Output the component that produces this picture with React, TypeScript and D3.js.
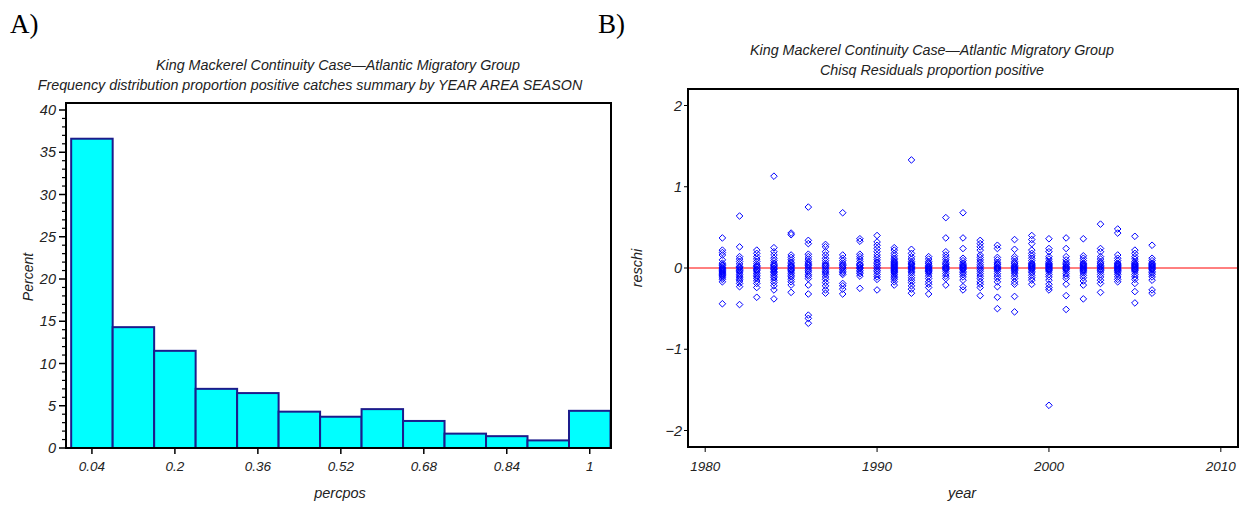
import React from "react";
import * as d3 from "d3";

// ---------- Panel A data ----------
const binCenters = [0.04, 0.12, 0.2, 0.28, 0.36, 0.44, 0.52, 0.6, 0.68, 0.76, 0.84, 0.92, 1.0];
const binPercents = [36.6, 14.3, 11.5, 7.0, 6.5, 4.3, 3.7, 4.6, 3.2, 1.7, 1.4, 0.9, 4.4];
const binWidth = 0.08;
const histXTicks = [0.04, 0.2, 0.36, 0.52, 0.68, 0.84, 1];
const histYTicks = [0, 5, 10, 15, 20, 25, 30, 35, 40];

// ---------- Panel B data ----------
const years = [1981, 1982, 1983, 1984, 1985, 1986, 1987, 1988, 1989, 1990, 1991, 1992, 1993,
  1994, 1995, 1996, 1997, 1998, 1999, 2000, 2001, 2002, 2003, 2004, 2005, 2006];
const reschiByYear = [
  [0.37, 0.22, 0.19, 0.16, 0.1, 0.06, 0.04, 0.03, 0.01, 0.0, -0.01, -0.02, -0.03, -0.04, -0.05, -0.06, -0.07, -0.08, -0.09, -0.1, -0.12, -0.14, -0.17, -0.44],
  [0.64, 0.26, 0.14, 0.11, 0.08, 0.05, 0.02, 0.01, 0.0, -0.02, -0.03, -0.04, -0.06, -0.08, -0.1, -0.12, -0.14, -0.16, -0.19, -0.23, -0.45],
  [0.22, 0.18, 0.14, 0.11, 0.08, 0.05, 0.03, 0.02, 0.01, -0.01, -0.02, -0.03, -0.05, -0.07, -0.09, -0.11, -0.13, -0.16, -0.19, -0.24, -0.36],
  [1.13, 0.25, 0.2, 0.16, 0.12, 0.09, 0.06, 0.04, 0.03, 0.02, 0.0, -0.01, -0.02, -0.04, -0.05, -0.06, -0.08, -0.1, -0.12, -0.15, -0.18, -0.22, -0.27, -0.38],
  [0.43, 0.41, 0.16, 0.13, 0.1, 0.07, 0.05, 0.03, 0.02, 0.01, -0.01, -0.02, -0.03, -0.05, -0.07, -0.09, -0.11, -0.14, -0.17, -0.21, -0.3],
  [0.75, 0.34, 0.3, 0.17, 0.14, 0.11, 0.08, 0.06, 0.04, 0.03, 0.01, -0.01, -0.03, -0.05, -0.08, -0.1, -0.13, -0.21, -0.32, -0.58, -0.62, -0.68],
  [0.29, 0.26, 0.2, 0.16, 0.12, 0.09, 0.06, 0.04, 0.03, 0.02, 0.0, -0.02, -0.04, -0.06, -0.08, -0.11, -0.14, -0.18, -0.22, -0.27, -0.31],
  [0.68, 0.16, 0.12, 0.09, 0.06, 0.04, 0.03, 0.01, 0.0, -0.02, -0.04, -0.06, -0.08, -0.19, -0.22, -0.26, -0.32],
  [0.36, 0.33, 0.17, 0.14, 0.11, 0.08, 0.05, 0.04, 0.03, 0.01, 0.0, -0.01, -0.03, -0.05, -0.07, -0.1, -0.25],
  [0.4, 0.32, 0.28, 0.24, 0.2, 0.16, 0.13, 0.1, 0.07, 0.05, 0.03, 0.01, -0.01, -0.03, -0.05, -0.08, -0.11, -0.14, -0.27],
  [0.25, 0.22, 0.18, 0.15, 0.12, 0.1, 0.08, 0.07, 0.06, 0.05, 0.04, 0.03, 0.02, 0.01, 0.0, -0.01, -0.02, -0.03, -0.04, -0.05, -0.06, -0.08, -0.1, -0.12, -0.14, -0.17, -0.21],
  [1.33, 0.23, 0.18, 0.14, 0.11, 0.08, 0.06, 0.05, 0.04, 0.02, 0.01, 0.0, -0.01, -0.02, -0.04, -0.06, -0.09, -0.12, -0.15, -0.18, -0.22, -0.26, -0.31],
  [0.14, 0.11, 0.08, 0.06, 0.05, 0.03, 0.02, 0.01, 0.0, -0.01, -0.02, -0.03, -0.04, -0.05, -0.07, -0.1, -0.13, -0.17, -0.2, -0.24, -0.32],
  [0.62, 0.37, 0.2, 0.16, 0.13, 0.1, 0.07, 0.05, 0.04, 0.02, 0.01, 0.0, -0.01, -0.02, -0.04, -0.07, -0.1, -0.13, -0.21],
  [0.68, 0.37, 0.24, 0.12, 0.09, 0.06, 0.04, 0.03, 0.02, 0.01, 0.0, -0.01, -0.02, -0.04, -0.06, -0.08, -0.11, -0.15, -0.23, -0.27],
  [0.34, 0.3, 0.26, 0.22, 0.16, 0.13, 0.1, 0.07, 0.04, 0.02, 0.0, -0.02, -0.04, -0.07, -0.1, -0.13, -0.17, -0.2, -0.24, -0.34],
  [0.28, 0.24, 0.13, 0.1, 0.07, 0.05, 0.04, 0.02, 0.01, 0.0, -0.01, -0.02, -0.04, -0.07, -0.1, -0.13, -0.17, -0.23, -0.36, -0.5],
  [0.35, 0.23, 0.14, 0.11, 0.08, 0.06, 0.05, 0.03, 0.02, 0.01, 0.0, -0.01, -0.02, -0.03, -0.05, -0.07, -0.1, -0.13, -0.17, -0.2, -0.35, -0.54],
  [0.4, 0.35, 0.3, 0.22, 0.18, 0.15, 0.12, 0.09, 0.06, 0.05, 0.04, 0.03, 0.02, 0.01, 0.0, -0.01, -0.02, -0.04, -0.06, -0.09, -0.12, -0.15, -0.2],
  [0.36, 0.24, 0.2, 0.14, 0.11, 0.08, 0.06, 0.05, 0.04, 0.03, 0.02, 0.01, 0.0, -0.01, -0.02, -0.03, -0.05, -0.08, -0.11, -0.15, -0.2, -0.24, -0.27, -1.69],
  [0.37, 0.24, 0.14, 0.1, 0.07, 0.05, 0.04, 0.02, 0.01, 0.0, -0.01, -0.02, -0.04, -0.07, -0.1, -0.13, -0.2, -0.34, -0.51],
  [0.36, 0.15, 0.12, 0.09, 0.06, 0.05, 0.04, 0.03, 0.02, 0.01, 0.0, -0.01, -0.02, -0.03, -0.04, -0.06, -0.09, -0.12, -0.16, -0.21, -0.38],
  [0.54, 0.24, 0.2, 0.14, 0.11, 0.08, 0.06, 0.05, 0.03, 0.02, 0.01, -0.01, -0.02, -0.03, -0.05, -0.08, -0.11, -0.15, -0.19, -0.3],
  [0.48, 0.43, 0.16, 0.12, 0.09, 0.06, 0.05, 0.04, 0.03, 0.02, 0.01, 0.0, -0.01, -0.02, -0.03, -0.04, -0.06, -0.08, -0.11, -0.14, -0.17],
  [0.39, 0.22, 0.18, 0.14, 0.11, 0.08, 0.06, 0.05, 0.04, 0.03, 0.02, 0.01, 0.0, -0.01, -0.02, -0.03, -0.05, -0.08, -0.11, -0.14, -0.19, -0.29, -0.43],
  [0.28, 0.12, 0.09, 0.06, 0.05, 0.04, 0.03, 0.02, 0.01, 0.0, -0.01, -0.02, -0.04, -0.06, -0.08, -0.11, -0.15, -0.27, -0.31],
];
const yearTicks = [1980, 1990, 2000, 2010];
const reschiTicks = [-2, -1, 0, 1, 2];

const titleA1 = "King Mackerel Continuity Case\u2014Atlantic Migratory Group";
const titleA2 = "Frequency distribution proportion positive catches summary by YEAR AREA SEASON";
const titleB1 = "King Mackerel Continuity Case\u2014Atlantic Migratory Group";
const titleB2 = "Chisq Residuals proportion positive";

const SANS = "'Liberation Sans', Arial, sans-serif";
const SERIF = "'Liberation Serif', 'Times New Roman', serif";

export default function App() {
  // Panel A geometry
  const aL = 66, aR = 611, aT = 103, aB = 448;
  const xA = d3.scaleLinear().domain([-0.01, 1.041]).range([aL, aR]);
  const yA = d3.scaleLinear().domain([0, 40]).range([aB, 110]);
  const minorA = d3.range(0, 41, 1).filter((v) => v % 5 !== 0);

  // Panel B geometry
  const bL = 688, bR = 1238, bT = 89, bB = 447;
  const xB = d3.scaleLinear().domain([1979, 2011]).range([bL, bR]);
  const yB = d3.scaleLinear().domain([-2, 2]).range([430.5, 105.5]);

  const pts: { x: number; y: number }[] = [];
  years.forEach((yr, i) => reschiByYear[i].forEach((v) => pts.push({ x: yr, y: v })));
  const d = 3.3;

  return (
    <svg width={1248} height={506} style={{ position: "absolute", left: 0, top: 0, background: "#fff" }}>
      <rect x={0} y={0} width={1248} height={506} fill="#fff" />
      {/* Panel labels */}
      <text x={10} y={33} fontFamily={SERIF} fontSize={27}>A)</text>
      <text x={598} y={33} fontFamily={SERIF} fontSize={27}>B)</text>

      {/* ---------- Panel A ---------- */}
      <g fontFamily={SANS} fontStyle="italic" fill="#222">
        <text x={338} y={70} fontSize={14.3} textAnchor="middle">{titleA1}</text>
        <text x={310} y={90} fontSize={14.3} textAnchor="middle">{titleA2}</text>
      </g>
      {binCenters.map((c, i) => (
        <rect key={i}
          x={xA(c - binWidth / 2)} y={yA(binPercents[i])}
          width={xA(c + binWidth / 2) - xA(c - binWidth / 2)}
          height={aB - yA(binPercents[i])}
          fill="#00ffff" stroke="#1c1c8c" strokeWidth={2} />
      ))}
      <rect x={aL} y={aT} width={aR - aL} height={aB - aT} fill="none" stroke="#000" strokeWidth={2} />
      {histYTicks.map((t) => (
        <g key={t}>
          <line x1={aL - 7} x2={aL} y1={yA(t)} y2={yA(t)} stroke="#000" strokeWidth={1.5} />
          <text x={aL - 10} y={yA(t) + 5} fontFamily={SANS} fontStyle="italic" fontSize={14.5} textAnchor="end" fill="#222">{t}</text>
        </g>
      ))}
      {minorA.map((t) => (
        <line key={t} x1={aL - 4} x2={aL} y1={yA(t)} y2={yA(t)} stroke="#000" strokeWidth={1.2} />
      ))}
      {histXTicks.map((t) => (
        <g key={t}>
          <line x1={xA(t)} x2={xA(t)} y1={aB} y2={aB + 6} stroke="#000" strokeWidth={1.5} />
          <text x={xA(t)} y={aB + 23} fontFamily={SANS} fontStyle="italic" fontSize={13.5} textAnchor="middle" fill="#222">{t}</text>
        </g>
      ))}
      <text x={340} y={498} fontFamily={SANS} fontStyle="italic" fontSize={14.5} textAnchor="middle" fill="#222">percpos</text>
      <text transform={`translate(33,277) rotate(-90)`} fontFamily={SANS} fontStyle="italic" fontSize={14} textAnchor="middle" fill="#222">Percent</text>

      {/* ---------- Panel B ---------- */}
      <g fontFamily={SANS} fontStyle="italic" fill="#222">
        <text x={932} y={55} fontSize={14.3} textAnchor="middle">{titleB1}</text>
        <text x={932} y={75} fontSize={14.3} textAnchor="middle">{titleB2}</text>
      </g>
      <line x1={bL} x2={bR} y1={yB(0)} y2={yB(0)} stroke="#ff0000" strokeWidth={1} />
      {pts.map((p, i) => {
        const cx = xB(p.x), cy = yB(p.y);
        return (
          <path key={i}
            d={`M${cx},${cy - d}L${cx + d},${cy}L${cx},${cy + d}L${cx - d},${cy}Z`}
            fill="none" stroke="#0000ff" strokeWidth={1} />
        );
      })}
      <rect x={bL} y={bT} width={bR - bL} height={bB - bT} fill="none" stroke="#000" strokeWidth={2} />
      {reschiTicks.map((t) => (
        <g key={t}>
          <line x1={bL - 4} x2={bL} y1={yB(t)} y2={yB(t)} stroke="#000" strokeWidth={1} />
          <text x={bL - 6} y={yB(t) + 5} fontFamily={SANS} fontStyle="italic" fontSize={14.5} textAnchor="end" fill="#222">{t < 0 ? `\u2212${-t}` : `${t}`}</text>
        </g>
      ))}
      {yearTicks.map((t) => (
        <g key={t}>
          <line x1={xB(t)} x2={xB(t)} y1={bB} y2={bB + 5} stroke="#000" strokeWidth={1} />
          <text x={xB(t)} y={bB + 24} fontFamily={SANS} fontStyle="italic" fontSize={13.5} textAnchor="middle" fill="#222">{t}</text>
        </g>
      ))}
      <text x={962} y={498} fontFamily={SANS} fontStyle="italic" fontSize={14.5} textAnchor="middle" fill="#222">year</text>
      <text transform={`translate(642,268) rotate(-90)`} fontFamily={SANS} fontStyle="italic" fontSize={14.5} textAnchor="middle" fill="#222">reschi</text>
    </svg>
  );
}
